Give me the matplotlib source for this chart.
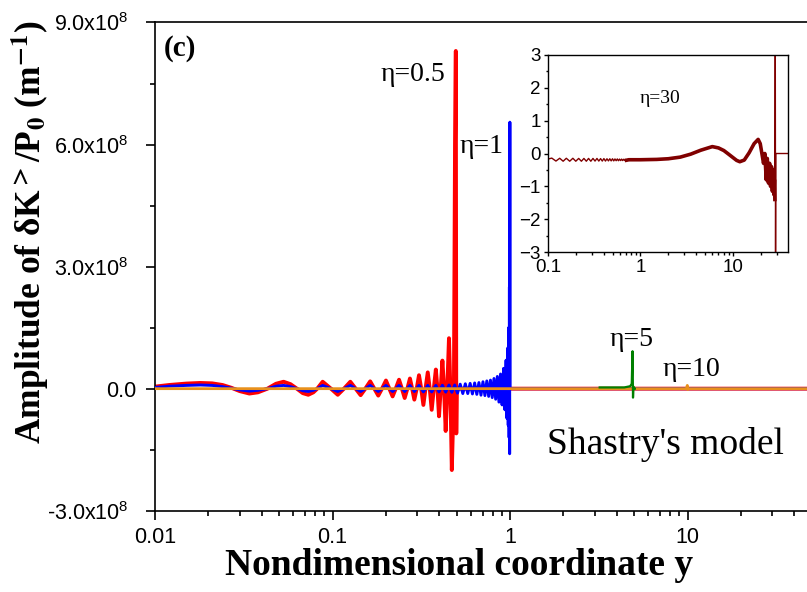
import numpy as np
import matplotlib
matplotlib.use("Agg")
import matplotlib.pyplot as plt
import matplotlib.ticker as tkr

plt.rcParams['font.family'] = ['Liberation Sans', 'DejaVu Sans']
plt.rcParams['mathtext.fontset'] = 'custom'
plt.rcParams['mathtext.rm'] = 'Liberation Sans'

# eta = 0.5 (red), values in units of 1e7 m^-1
red_x = [0.010, 0.012, 0.015, 0.018, 0.021, 0.024, 0.027, 0.030, 0.034, 0.038,
         0.043, 0.048, 0.053, 0.058, 0.063, 0.068, 0.073, 0.078, 0.082, 0.088,
         0.098, 0.107, 0.116, 0.126, 0.135, 0.144, 0.153, 0.163, 0.172, 0.181,
         0.190, 0.200, 0.209, 0.218, 0.227, 0.237, 0.246, 0.255, 0.264, 0.273,
         0.281, 0.289, 0.298, 0.307, 0.316, 0.325, 0.334, 0.344, 0.353, 0.362,
         0.372, 0.382, 0.390, 0.398, 0.407, 0.416, 0.425, 0.434, 0.443, 0.453,
         0.461, 0.470, 0.483, 0.490, 0.495, 0.498, 0.501, 100.0]
red_y = [0.5, 0.9, 1.25, 1.4, 1.3, 0.9, 0.2, -0.6, -1.2, -0.9,
         0.0, 1.2, 1.7, 1.1, 0.0, -1.1, -1.5, -0.9, 0.0, 1.7,
         0.0, -1.5, 0.0, 1.7, 0.0, -1.6, 0.0, 1.8, 0.0, -1.7,
         0.0, 2.0, 0.0, -1.9, 0.0, 2.2, 0.0, -2.3, 0.0, 2.5,
         0.0, -2.7, 0.0, 3.3, 0.0, -4.0, 0.0, 4.0, 0.0, -5.2,
         0.0, 4.7, 0.0, -6.8, 0.0, 6.9, 0.0, -10.4, 0.0, 12.4,
         0.0, -20.0, 0.0, 60.0, 83.0, -11.0, 0.0, 0.0]

# eta = 1 (blue)
blue_x = [0.010, 0.012, 0.015, 0.018, 0.021, 0.024, 0.027, 0.030, 0.034, 0.038,
          0.043, 0.048, 0.053, 0.058, 0.063, 0.068, 0.073, 0.078, 0.082, 0.088,
          0.098, 0.107, 0.116, 0.126, 0.135, 0.144, 0.153, 0.163, 0.172, 0.181,
          0.190, 0.200, 0.218, 0.237, 0.255, 0.273, 0.289, 0.307, 0.325, 0.344,
          0.362, 0.382, 0.398, 0.416, 0.434, 0.453, 0.470, 0.488, 0.506, 0.524,
          0.542, 0.560, 0.578, 0.596, 0.614, 0.632, 0.650, 0.668, 0.686, 0.704,
          0.722, 0.740, 0.758, 0.776, 0.794, 0.812, 0.830, 0.848, 0.866, 0.884,
          0.902, 0.920, 0.936, 0.950, 0.961, 0.970, 0.977, 0.983, 0.988, 0.992,
          0.995, 0.998, 1.000, 100.0]
blue_y = [0.3, 0.6, 0.8, 0.9, 0.8, 0.5, 0.1, -0.3, -0.6, -0.4,
          0.0, 0.6, 0.8, 0.5, 0.0, -0.5, -0.7, -0.4, 0.0, 0.8,
          0.0, -0.7, 0.0, 0.8, 0.0, -0.7, 0.0, 0.8, 0.0, -0.7,
          0.0, 0.8, -0.7, 0.8, -0.7, 0.8, -0.7, 0.8, -0.8, 0.8,
          -0.8, 0.8, -0.8, 0.85, -0.85, 0.9, -0.9, 0.9, -1.1, 1.1,
          -1.2, 1.2, -1.2, 1.3, -1.3, 1.4, -1.4, 1.5, -1.6, 1.7,
          -1.7, 1.9, -1.9, 2.1, -2.2, 2.5, -2.6, 3.0, -3.3, 3.6,
          -4.0, 5.0, -5.2, 7.0, -7.3, 10.0, -9.0, 15.0, -12.0, 25.0,
          -16.0, 65.5, 0.0, 0.0]

# eta = 5 (green)
green_x = [3.2, 4.4, 4.75, 4.85, 4.90, 4.93, 4.96, 5.0, 5.05]
green_y = [0.3, 0.3, 0.6, 1.2, 9.2, -2.2, 0.5, 0.0, 0.0]

# eta = 10 (orange)
orange_x = [0.01, 9.85, 9.97, 10.02, 10.1, 100.0]
orange_y = [0.0, 0.0, 0.8, -0.2, 0.0, 0.0]

# inset, eta = 30
ins_x = [0.100, 0.110, 0.122, 0.134, 0.146, 0.158, 0.172, 0.186, 0.200, 0.215,
         0.230, 0.245, 0.260, 0.275, 0.291, 0.307, 0.323, 0.339, 0.355, 0.371,
         0.387, 0.403, 0.419, 0.435, 0.451, 0.467, 0.483, 0.499, 0.515, 0.531,
         0.547, 0.563, 0.579, 0.595, 0.611, 0.627, 0.643, 0.659, 0.675, 0.691,
         0.707, 0.750, 1.0, 1.5, 2.0, 2.7, 3.5, 4.5, 6.0, 7.0,
         8.0, 9.0, 10.0, 11.0, 11.9, 13.3, 15.0, 17.0, 18.8, 19.8,
         20.5, 21.5, 22.2, 23.0, 23.6, 24.3, 25.0, 25.6, 26.2, 26.8,
         27.3, 27.8, 28.2, 28.5, 28.8, 29.0, 29.2, 40.0]
ins_y = [-0.17, -0.14, -0.23, -0.145, -0.235, -0.145, -0.235, -0.145, -0.235, -0.15,
         -0.235, -0.15, -0.235, -0.15, -0.235, -0.15, -0.23, -0.15, -0.23, -0.155,
         -0.23, -0.155, -0.23, -0.16, -0.225, -0.16, -0.225, -0.16, -0.225, -0.165,
         -0.22, -0.165, -0.22, -0.17, -0.215, -0.17, -0.215, -0.175, -0.21, -0.18,
         -0.205, -0.19, -0.19, -0.18, -0.16, -0.11, -0.02, 0.1, 0.21, 0.17,
         0.09, -0.02, -0.12, -0.21, -0.25, -0.2, 0.02, 0.3, 0.43, 0.3,
         0.05, -0.3, 0.0, -0.8, -0.15, -0.9, -0.3, -1.0, -0.4, -1.15,
         -0.5, -1.25, -0.8, -1.4, 3.5, -3.5, 0.0, 0.0]

y_ticks = [-3e8, 0, 3e8, 6e8, 9e8]
y_labels = ['-3.0x10$^{8}$', '0.0', '3.0x10$^{8}$', '6.0x10$^{8}$', '9.0x10$^{8}$']
x_ticks = [0.01, 0.1, 1, 10]
x_labels = ['0.01', '0.1', '1', '10']

serif = 'Liberation Serif'
scale = 1e7

fig = plt.figure(figsize=(8.07, 5.92), dpi=100)
ax = fig.add_axes([0.1921, 0.1373, 0.8798, 0.8247])

ax.plot(red_x, np.array(red_y) * scale, color='#ff0000', lw=2.8, zorder=2)
ax.plot(blue_x, np.array(blue_y) * scale, color='#0000ff', lw=2.1, zorder=3)
ax.plot(orange_x, np.array(orange_y) * scale, color='#e8901c', lw=2.0, zorder=4)
ax.plot(green_x, np.array(green_y) * scale, color='#008000', lw=1.6, zorder=5)

ax.set_xscale('log')
ax.set_xlim(0.01, 100)
ax.set_ylim(-3e8, 9e8)
ax.set_xticks(x_ticks)
ax.set_xticklabels(x_labels)
ax.xaxis.set_minor_locator(tkr.LogLocator(base=10, subs=np.arange(2, 10)))
ax.xaxis.set_minor_formatter(tkr.NullFormatter())
ax.set_yticks(y_ticks)
ax.set_yticklabels(y_labels)
ax.yaxis.set_minor_locator(tkr.MultipleLocator(1.5e8))

ax.tick_params(which='major', direction='out', length=6.7, width=1.2,
               labelsize=15.5, top=False, right=False)
ax.tick_params(which='minor', direction='out', length=3.6, width=1.2,
               top=False, right=False)
ax.tick_params(axis='x', which='major', pad=5)
ax.tick_params(axis='y', which='major', pad=12.5)
ax.yaxis.get_major_ticks()[1].set_pad(6.5)
for s in ax.spines.values():
    s.set_linewidth(1.2)

ax.set_xlabel('Nondimensional coordinate y', fontfamily=serif,
              fontweight='bold', fontsize=27)
ax.xaxis.set_label_coords(0.4289, -0.076)
ax.set_ylabel(r'Amplitude of δK$^{\mathbf{>}}$/P$_{\mathbf{0}}$ (m$^{\mathbf{-1}}$)',
              fontfamily=serif, fontweight='bold', fontsize=25.5,
              math_fontfamily='stix')
ax.yaxis.set_label_coords(-0.147, 0.571)

ax.text(0.0138, 8.37e8, '(c)', fontfamily=serif, fontweight='bold',
        fontsize=21, ha='center', va='center')
ax.text(0.284, 7.73e8, 'η=0.5', fontfamily=serif, fontsize=20,
        ha='center', va='center')
ax.text(0.695, 5.95e8, 'η=1', fontfamily=serif, fontsize=20,
        ha='center', va='center')
ax.text(4.81, 1.22e8, 'η=5', fontfamily=serif, fontsize=20,
        ha='center', va='center')
ax.text(10.5, 4.6e7, 'η=10', fontfamily=serif, fontsize=20,
        ha='center', va='center')
ax.text(7.52, -1.37e8, "Shastry's model", fontfamily=serif, fontsize=27,
        ha='center', va='center')

# inset
ins = fig.add_axes([0.679, 0.5743, 0.2974, 0.3328])
thick = (np.array(ins_x) >= 0.7) & (np.array(ins_x) <= 28.6)
ins.plot(ins_x, ins_y, color='#800000', lw=1.0)
ins.plot(np.array(ins_x)[thick], np.array(ins_y)[thick], color='#800000', lw=2.6)
ins.set_xscale('log')
ins.set_xlim(0.1, 39.5)
ins.set_ylim(-3, 3)
ins.set_xticks([0.1, 1, 10])
ins.set_xticklabels(['0.1', '1', '10'])
ins.xaxis.set_minor_locator(tkr.LogLocator(base=10, subs=np.arange(2, 10)))
ins.xaxis.set_minor_formatter(tkr.NullFormatter())
ins.set_yticks([-3, -2, -1, 0, 1, 2, 3])
ins.yaxis.set_minor_locator(tkr.MultipleLocator(0.5))
ins.tick_params(which='major', direction='out', length=3.2, width=1,
                labelsize=13.5, pad=2, top=False, right=False)
ins.tick_params(which='minor', direction='out', length=1.8, width=1,
                top=False, right=False)
for s in ins.spines.values():
    s.set_linewidth(1.0)
ins.text(1.63, 1.66, 'η=30', fontfamily=serif, fontsize=14,
         ha='center', va='center')

fig.savefig('out.png', dpi=100)
